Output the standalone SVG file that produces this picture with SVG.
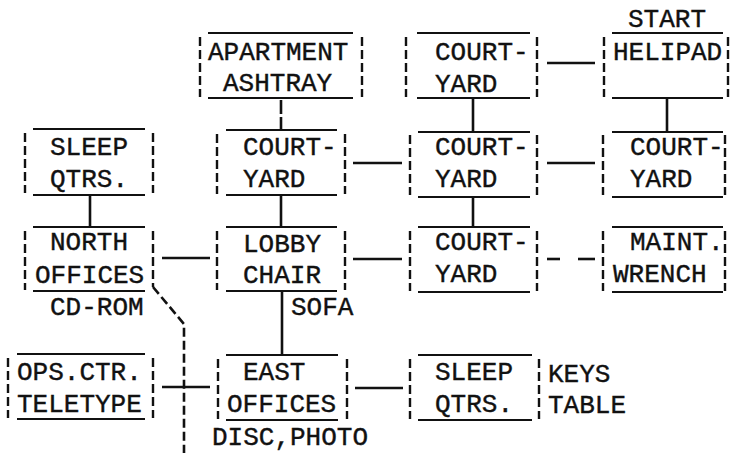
<svg xmlns="http://www.w3.org/2000/svg" width="731" height="453" viewBox="0 0 731 453">
<style>
  .h { stroke:#111; stroke-width:2.2; fill:none; }
  .v { stroke:#111; stroke-width:2.4; stroke-dasharray:9 4; fill:none; }
  .c { stroke:#111; stroke-width:2.6; fill:none; }
  .cd { stroke:#111; stroke-width:2.6; stroke-dasharray:9 4; fill:none; }
  text { font-family:"Liberation Mono","DejaVu Sans Mono",monospace; font-size:26px; fill:#111; stroke:#111; stroke-width:0.4; }
</style>
<rect width="731" height="453" fill="#fff"/>

<g id="connectors">
  <line class="c" x1="90" y1="195" x2="90" y2="227"/>
  <line class="c" x1="281" y1="100" x2="281" y2="130" stroke-dasharray="14 3"/>
  <line class="c" x1="473" y1="98" x2="473" y2="132"/>
  <line class="c" x1="667" y1="98" x2="667" y2="132"/>
  <line class="c" x1="547" y1="63" x2="595" y2="63"/>
  <line class="c" x1="281" y1="195" x2="281" y2="227"/>
  <line class="c" x1="353" y1="163" x2="402" y2="163"/>
  <line class="c" x1="547" y1="163" x2="595" y2="163"/>
  <line class="c" x1="473" y1="197" x2="473" y2="227"/>
  <line class="c" x1="162" y1="258" x2="210" y2="258"/>
  <line class="c" x1="353" y1="259" x2="402" y2="259"/>
  <line class="c" x1="547" y1="259" x2="560" y2="259"/>
  <line class="c" x1="578" y1="259" x2="595" y2="259"/>
  <line class="c" x1="282" y1="291" x2="282" y2="355"/>
  <line class="c" x1="355" y1="388" x2="403" y2="388"/>
  <path class="cd" d="M153,287 L184,324 L184,453"/>
  <line class="c" x1="162" y1="387" x2="210" y2="387"/>
</g>

<g id="apartment">
  <line class="h" x1="208" y1="33" x2="353" y2="33"/>
  <line class="h" x1="208" y1="98" x2="353" y2="98"/>
  <line class="v" x1="200" y1="37" x2="200" y2="97"/>
  <line class="v" x1="362" y1="37" x2="362" y2="97"/>
  <text x="208" y="60">APARTMENT</text>
  <text x="223" y="91">ASHTRAY</text>
</g>

<g id="courtyard-1c">
  <line class="h" x1="417" y1="33" x2="530" y2="33"/>
  <line class="h" x1="417" y1="98" x2="530" y2="98"/>
  <line class="v" x1="406" y1="37" x2="406" y2="97"/>
  <line class="v" x1="537" y1="37" x2="537" y2="97"/>
  <text x="435" y="60">COURT-</text>
  <text x="435" y="92">YARD</text>
</g>

<g id="helipad">
  <line class="h" x1="612" y1="33" x2="723" y2="33"/>
  <line class="h" x1="612" y1="98" x2="723" y2="98"/>
  <line class="v" x1="604" y1="37" x2="604" y2="97"/>
  <line class="v" x1="728" y1="37" x2="728" y2="97"/>
  <text x="628" y="27">START</text>
  <text x="613" y="60">HELIPAD</text>
</g>

<g id="sleep-qtrs-north">
  <line class="h" x1="33" y1="129" x2="145" y2="129"/>
  <line class="h" x1="33" y1="195" x2="145" y2="195"/>
  <line class="v" x1="25" y1="133" x2="25" y2="193"/>
  <line class="v" x1="153" y1="133" x2="153" y2="193"/>
  <text x="50" y="155">SLEEP</text>
  <text x="50" y="187">QTRS.</text>
</g>

<g id="courtyard-2b">
  <line class="h" x1="226" y1="130" x2="337" y2="130"/>
  <line class="h" x1="226" y1="195" x2="337" y2="195"/>
  <line class="v" x1="217" y1="134" x2="217" y2="194"/>
  <line class="v" x1="345" y1="134" x2="345" y2="194"/>
  <text x="243" y="155">COURT-</text>
  <text x="243" y="187">YARD</text>
</g>

<g id="courtyard-2c">
  <line class="h" x1="418" y1="132" x2="530" y2="132"/>
  <line class="h" x1="418" y1="197" x2="530" y2="197"/>
  <line class="v" x1="410" y1="135" x2="410" y2="195"/>
  <line class="v" x1="537" y1="135" x2="537" y2="195"/>
  <text x="435" y="155">COURT-</text>
  <text x="435" y="187">YARD</text>
</g>

<g id="courtyard-2d">
  <line class="h" x1="612" y1="132" x2="723" y2="132"/>
  <line class="h" x1="612" y1="197" x2="723" y2="197"/>
  <line class="v" x1="603" y1="135" x2="603" y2="195"/>
  <line class="v" x1="725" y1="135" x2="725" y2="195"/>
  <text x="630" y="155">COURT-</text>
  <text x="630" y="187">YARD</text>
</g>

<g id="north-offices">
  <line class="h" x1="33" y1="227" x2="145" y2="227"/>
  <line class="h" x1="33" y1="291" x2="145" y2="291"/>
  <line class="v" x1="25" y1="231" x2="25" y2="290"/>
  <line class="v" x1="153" y1="231" x2="153" y2="287"/>
  <text x="50" y="250">NORTH</text>
  <text x="35" y="283">OFFICES</text>
  <text x="50" y="315">CD-ROM</text>
</g>

<g id="lobby">
  <line class="h" x1="226" y1="227" x2="337" y2="227"/>
  <line class="h" x1="226" y1="291" x2="337" y2="291"/>
  <line class="v" x1="217" y1="231" x2="217" y2="290"/>
  <line class="v" x1="345" y1="231" x2="345" y2="290"/>
  <text x="243" y="252">LOBBY</text>
  <text x="243" y="283">CHAIR</text>
  <text x="291" y="315">SOFA</text>
</g>

<g id="courtyard-3c">
  <line class="h" x1="418" y1="227" x2="530" y2="227"/>
  <line class="h" x1="418" y1="292" x2="530" y2="292"/>
  <line class="v" x1="410" y1="231" x2="410" y2="291"/>
  <line class="v" x1="537" y1="231" x2="537" y2="291"/>
  <text x="435" y="250">COURT-</text>
  <text x="435" y="282">YARD</text>
</g>

<g id="maint">
  <line class="h" x1="612" y1="227" x2="723" y2="227"/>
  <line class="h" x1="612" y1="292" x2="723" y2="292"/>
  <line class="v" x1="603" y1="231" x2="603" y2="291"/>
  <line class="v" x1="725" y1="231" x2="725" y2="291"/>
  <text x="630" y="250">MAINT.</text>
  <text x="613" y="282">WRENCH</text>
</g>

<g id="ops-ctr">
  <line class="h" x1="17" y1="354" x2="145" y2="354"/>
  <line class="h" x1="17" y1="419" x2="145" y2="419"/>
  <line class="v" x1="8" y1="358" x2="8" y2="418"/>
  <line class="v" x1="153" y1="358" x2="153" y2="418"/>
  <text x="17" y="380">OPS.CTR.</text>
  <text x="17" y="412">TELETYPE</text>
</g>

<g id="east-offices">
  <line class="h" x1="226" y1="355" x2="338" y2="355"/>
  <line class="h" x1="226" y1="420" x2="338" y2="420"/>
  <line class="v" x1="218" y1="359" x2="218" y2="419"/>
  <line class="v" x1="347" y1="359" x2="347" y2="419"/>
  <text x="243" y="380">EAST</text>
  <text x="227" y="412">OFFICES</text>
  <text x="212" y="445">DISC,PHOTO</text>
</g>

<g id="sleep-qtrs-south">
  <line class="h" x1="418" y1="355" x2="532" y2="355"/>
  <line class="h" x1="418" y1="420" x2="532" y2="420"/>
  <line class="v" x1="410" y1="359" x2="410" y2="419"/>
  <line class="v" x1="539" y1="359" x2="539" y2="419"/>
  <text x="435" y="380">SLEEP</text>
  <text x="435" y="412">QTRS.</text>
  <text x="548" y="382">KEYS</text>
  <text x="548" y="413">TABLE</text>
</g>
</svg>
